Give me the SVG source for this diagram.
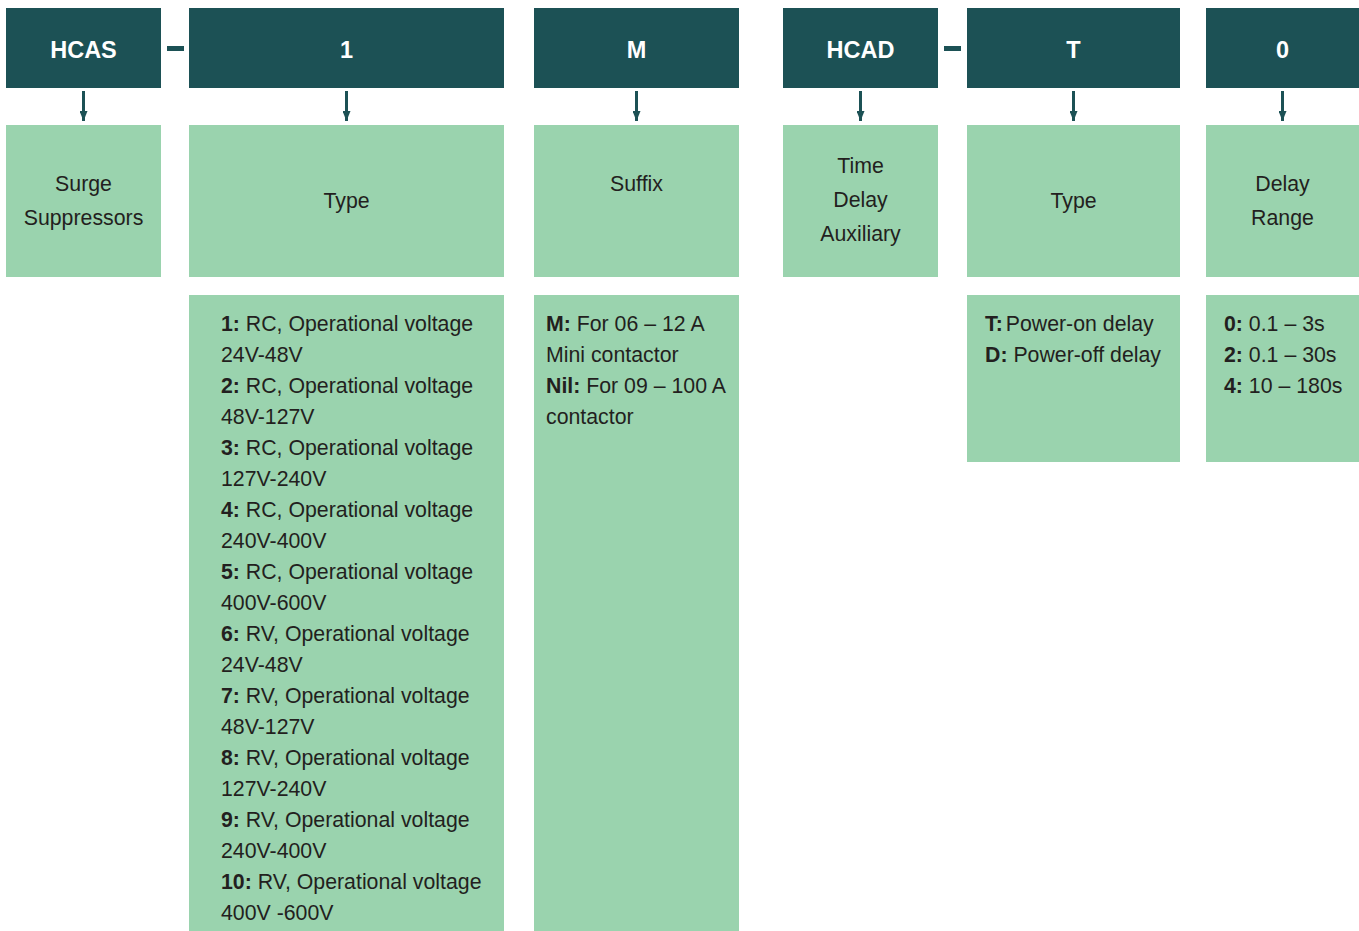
<svg xmlns="http://www.w3.org/2000/svg" width="1359" height="931" viewBox="0 0 1359 931">
<defs>
<marker id="ah" viewBox="0 0 10 8" refX="10" refY="4" markerWidth="10" markerHeight="8" markerUnits="userSpaceOnUse" orient="auto">
<path d="M0,0 L10,4 L0,8 Z" fill="#1c5155"/>
</marker>
<style>
.hd{fill:#1c5155}
.gr{fill:#9ad3ae}
.ht{font-family:"Liberation Sans",Arial,sans-serif;font-weight:bold;font-size:23.5px;fill:#ffffff;text-anchor:middle}
.lt{font-family:"Liberation Sans",Arial,sans-serif;font-size:21.3px;fill:#231f20;text-anchor:middle}
.dt{font-family:"Liberation Sans",Arial,sans-serif;font-size:21.3px;fill:#231f20}
.b{font-weight:bold}
.cn{stroke:#1c5155;stroke-width:3;fill:none}
</style>
</defs>
<rect width="1359" height="931" fill="#ffffff"/>

<g id="hcas">
<rect class="hd" x="6" y="8" width="155" height="80"/>
<text class="ht" x="83.5" y="57.5">HCAS</text>
<rect class="gr" x="6" y="125" width="155" height="152"/>
<text class="lt" x="83.5" y="191">Surge</text>
<text class="lt" x="83.5" y="225">Suppressors</text>
</g>

<g id="type1">
<rect class="hd" x="189" y="8" width="315" height="80"/>
<text class="ht" x="346.5" y="57.5">1</text>
<rect class="gr" x="189" y="125" width="315" height="152"/>
<text class="lt" x="346.5" y="208">Type</text>
<rect class="gr" x="189" y="295" width="315" height="636"/>
<text class="dt" x="221" y="331"><tspan class="b">1:</tspan> RC, Operational voltage</text>
<text class="dt" x="221" y="362">24V-48V</text>
<text class="dt" x="221" y="393"><tspan class="b">2:</tspan> RC, Operational voltage</text>
<text class="dt" x="221" y="424">48V-127V</text>
<text class="dt" x="221" y="455"><tspan class="b">3:</tspan> RC, Operational voltage</text>
<text class="dt" x="221" y="486">127V-240V</text>
<text class="dt" x="221" y="517"><tspan class="b">4:</tspan> RC, Operational voltage</text>
<text class="dt" x="221" y="548">240V-400V</text>
<text class="dt" x="221" y="579"><tspan class="b">5:</tspan> RC, Operational voltage</text>
<text class="dt" x="221" y="610">400V-600V</text>
<text class="dt" x="221" y="641"><tspan class="b">6:</tspan> RV, Operational voltage</text>
<text class="dt" x="221" y="672">24V-48V</text>
<text class="dt" x="221" y="703"><tspan class="b">7:</tspan> RV, Operational voltage</text>
<text class="dt" x="221" y="734">48V-127V</text>
<text class="dt" x="221" y="765"><tspan class="b">8:</tspan> RV, Operational voltage</text>
<text class="dt" x="221" y="796">127V-240V</text>
<text class="dt" x="221" y="827"><tspan class="b">9:</tspan> RV, Operational voltage</text>
<text class="dt" x="221" y="858">240V-400V</text>
<text class="dt" x="221" y="889"><tspan class="b">10:</tspan> RV, Operational voltage</text>
<text class="dt" x="221" y="920">400V -600V</text>
</g>

<g id="suffix">
<rect class="hd" x="534" y="8" width="205" height="80"/>
<text class="ht" x="636.5" y="57.5">M</text>
<rect class="gr" x="534" y="125" width="205" height="152"/>
<text class="lt" x="636.5" y="191">Suffix</text>
<rect class="gr" x="534" y="295" width="205" height="636"/>
<text class="dt" x="546" y="331"><tspan class="b">M:</tspan> For 06 – 12 A</text>
<text class="dt" x="546" y="362">Mini contactor</text>
<text class="dt" x="546" y="393"><tspan class="b">Nil:</tspan> For 09 – 100 A</text>
<text class="dt" x="546" y="424">contactor</text>
</g>

<g id="hcad">
<rect class="hd" x="783" y="8" width="155" height="80"/>
<text class="ht" x="860.5" y="57.5">HCAD</text>
<rect class="gr" x="783" y="125" width="155" height="152"/>
<text class="lt" x="860.5" y="173">Time</text>
<text class="lt" x="860.5" y="207">Delay</text>
<text class="lt" x="860.5" y="241">Auxiliary</text>
</g>

<g id="typeT">
<rect class="hd" x="967" y="8" width="213" height="80"/>
<text class="ht" x="1073.5" y="57.5">T</text>
<rect class="gr" x="967" y="125" width="213" height="152"/>
<text class="lt" x="1073.5" y="208">Type</text>
<rect class="gr" x="967" y="295" width="213" height="167"/>
<text class="dt" x="985" y="331"><tspan class="b">T:</tspan><tspan dx="3">Power-on delay</tspan></text>
<text class="dt" x="985" y="362"><tspan class="b">D:</tspan> Power-off delay</text>
</g>

<g id="range0">
<rect class="hd" x="1206" y="8" width="153" height="80"/>
<text class="ht" x="1282.5" y="57.5">0</text>
<rect class="gr" x="1206" y="125" width="153" height="152"/>
<text class="lt" x="1282.5" y="191">Delay</text>
<text class="lt" x="1282.5" y="225">Range</text>
<rect class="gr" x="1206" y="295" width="153" height="167"/>
<text class="dt" x="1224" y="331"><tspan class="b">0:</tspan> 0.1 – 3s</text>
<text class="dt" x="1224" y="362"><tspan class="b">2:</tspan> 0.1 – 30s</text>
<text class="dt" x="1224" y="393"><tspan class="b">4:</tspan> 10 – 180s</text>
</g>

<g id="connectors">
<rect class="hd" x="167" y="46" width="17" height="5"/>
<rect class="hd" x="944" y="46" width="17" height="5"/>
<line class="cn" x1="83.5" y1="91" x2="83.5" y2="121" marker-end="url(#ah)"/>
<line class="cn" x1="346.5" y1="91" x2="346.5" y2="121" marker-end="url(#ah)"/>
<line class="cn" x1="636.5" y1="91" x2="636.5" y2="121" marker-end="url(#ah)"/>
<line class="cn" x1="860.5" y1="91" x2="860.5" y2="121" marker-end="url(#ah)"/>
<line class="cn" x1="1073.5" y1="91" x2="1073.5" y2="121" marker-end="url(#ah)"/>
<line class="cn" x1="1282.5" y1="91" x2="1282.5" y2="121" marker-end="url(#ah)"/>
</g>
</svg>
